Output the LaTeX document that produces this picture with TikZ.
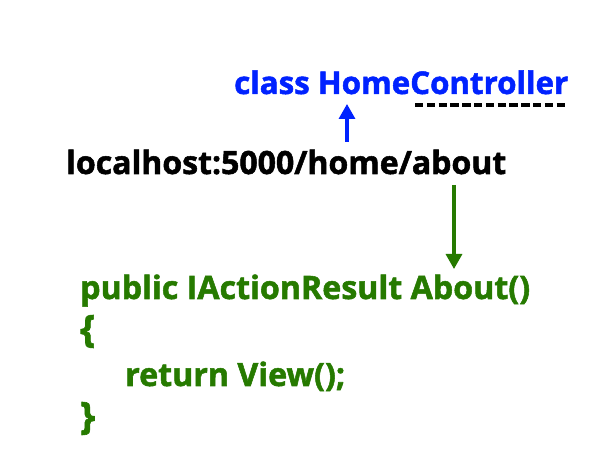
\documentclass[tikz,border=0pt]{standalone}
\usepackage{fontspec}
\setmainfont{Open Sans}[BoldFeatures={FakeBold=1.6}]
\usetikzlibrary{arrows.meta}
\definecolor{cblue}{RGB}{0,34,255}
\definecolor{cgreen}{RGB}{38,122,0}
\tikzset{
  txt/.style={anchor=base west, inner sep=0pt, font=\bfseries},
  arr/.style={line width=3.2pt, -{Triangle[width=16pt,length=15pt]}},
}
\begin{document}
\begin{tikzpicture}[x=1pt,y=-1pt]
\useasboundingbox[fill=white] (0,0) rectangle (598,462);
\node[txt, text=cblue] (cls) at (234,94) {\resizebox{334pt}{!}{\bfseries class HomeController}};
\coordinate (d1) at (415,105);
\coordinate (d2) at (567,105);
\draw[line width=3.2pt, dash pattern=on 8.3pt off 3.5pt] (d1) -- (d2);
\node[txt] (url) at (66,174) {\resizebox{440pt}{!}{\bfseries localhost:5000/home/about}};
\node[txt, text=cgreen] (sig) at (80,299) {\resizebox{450pt}{!}{\bfseries public IActionResult About()}};
\node[txt, text=cgreen] (ob) at (80,342) {\resizebox{!}{27pt}{\bfseries \{}};
\node[txt, text=cgreen] (ret) at (125,386) {\resizebox{220pt}{!}{\bfseries return View();}};
\node[txt, text=cgreen] (cb) at (80,429) {\resizebox{!}{27pt}{\bfseries \}}};
\coordinate (ba) at (347,142);
\coordinate (bb) at (347,104);
\draw[arr, cblue] (ba) -- (bb);
\coordinate (ga) at (454,185);
\coordinate (gb) at (454,269);
\draw[arr, cgreen] (ga) -- (gb);
\end{tikzpicture}
\end{document}
